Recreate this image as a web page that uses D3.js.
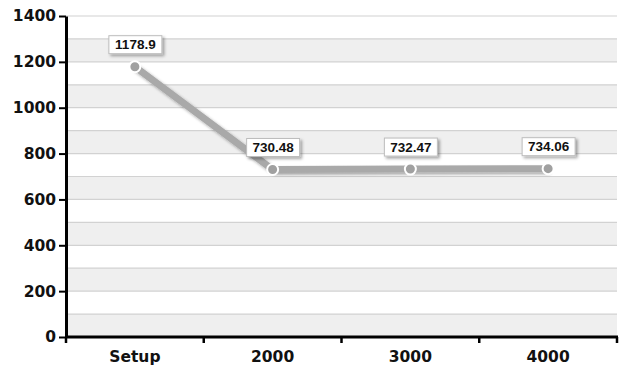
<!DOCTYPE html>
<html><head><meta charset="utf-8">
<script src="https://cdn.jsdelivr.net/npm/d3@7"></script>
<style>body{margin:0;background:#fff}svg{display:block}text{font-family:"DejaVu Sans",sans-serif;font-weight:bold}text.lbl{font-family:"Liberation Sans",Arial,sans-serif}</style>
</head><body>
<svg id="c" width="622" height="365"></svg>
<script>
const categories = ["Setup","2000","3000","4000"];
const values = [1178.9,730.48,732.47,734.06];
const labels = ["1178.9","730.48","732.47","734.06"];
const yTicks = [0,200,400,600,800,1000,1200,1400];

const svg = d3.select("#c");
const m = {l:66, r:5, t:16, b:28};
const W = 622, H = 365;
const x = d3.scaleBand().domain(categories).range([m.l, W-m.r]);
const y = d3.scaleLinear().domain([0,1400]).range([H-m.b, m.t]);

const defs = svg.append("defs");
const f = defs.append("filter").attr("id","sh").attr("x","-20%").attr("y","-20%").attr("width","150%").attr("height","160%");
f.append("feDropShadow").attr("dx",2).attr("dy",2).attr("stdDeviation",1.8).attr("flood-color","#000").attr("flood-opacity",0.35);

// bands
const bands = d3.range(0,1400,200);
svg.append("g").selectAll("rect").data(bands).join("rect")
  .attr("x",m.l).attr("width",W-m.r-m.l)
  .attr("y",d=>y(d+100)).attr("height",d=>y(d)-y(d+100)).attr("fill","#efefef");
// grid lines
svg.append("g").selectAll("line").data(d3.range(100,1500,100)).join("line")
  .attr("x1",m.l).attr("x2",W-m.r).attr("y1",d=>y(d)).attr("y2",d=>y(d))
  .attr("stroke","#d2d2d2").attr("stroke-width",1.2);

// line
const line = d3.line().x((d,i)=>x(categories[i])+x.bandwidth()/2).y(d=>y(d));
svg.append("path").datum(values).attr("d",line).attr("fill","none")
  .attr("stroke","#a9a9a9").attr("stroke-width",7).attr("filter","url(#sh)");
svg.append("g").selectAll("circle").data(values).join("circle")
  .attr("cx",(d,i)=>x(categories[i])+x.bandwidth()/2).attr("cy",d=>y(d)).attr("r",5.5)
  .attr("fill","#a0a0a0").attr("stroke","#fff").attr("stroke-width",2);

// labels
const lg = svg.append("g").selectAll("g").data(values).join("g")
  .attr("transform",(d,i)=>`translate(${x(categories[i])+x.bandwidth()/2},${y(d)-31})`);
lg.append("rect").attr("x",-26).attr("y",0).attr("width",53).attr("height",18)
  .attr("fill","#fff").attr("stroke","#bdbdbd").attr("stroke-width",1).attr("filter","url(#sh)");
lg.append("text").attr("class","lbl").attr("x",0.5).attr("y",13.6).attr("text-anchor","middle")
  .style("font-size","13.5px")
  .attr("fill","#111").text((d,i)=>labels[i]);

// axes
const ya = svg.append("g").attr("transform",`translate(${m.l},0)`)
  .call(d3.axisLeft(y).tickValues(yTicks).tickFormat(d3.format("d")).tickSize(7).tickPadding(3).tickSizeOuter(0));
ya.select(".domain").attr("stroke","#000").attr("stroke-width",3);
ya.selectAll(".tick line").attr("stroke","#000").attr("stroke-width",2);
ya.selectAll("text").attr("font-size",15.5).attr("fill","#111").attr("font-family","DejaVu Sans, sans-serif").attr("font-weight","bold");

const xa = svg.append("g").attr("transform",`translate(0,${H-m.b})`);
xa.append("line").attr("x1",m.l-1).attr("x2",W-m.r+1).attr("stroke","#000").attr("stroke-width",3);
const bounds = categories.map(c=>x(c)).concat([x(categories[categories.length-1])+x.bandwidth()]);
xa.selectAll(".tk").data(bounds).join("line").attr("class","tk")
  .attr("x1",d=>d).attr("x2",d=>d).attr("y1",0).attr("y2",6).attr("stroke","#000").attr("stroke-width",2.5);
xa.selectAll("text").data(categories).join("text")
  .attr("x",d=>x(d)+x.bandwidth()/2).attr("y",25).attr("text-anchor","middle")
  .attr("font-size",15.5).attr("fill","#111").text(d=>d);
</script>
</body></html>
